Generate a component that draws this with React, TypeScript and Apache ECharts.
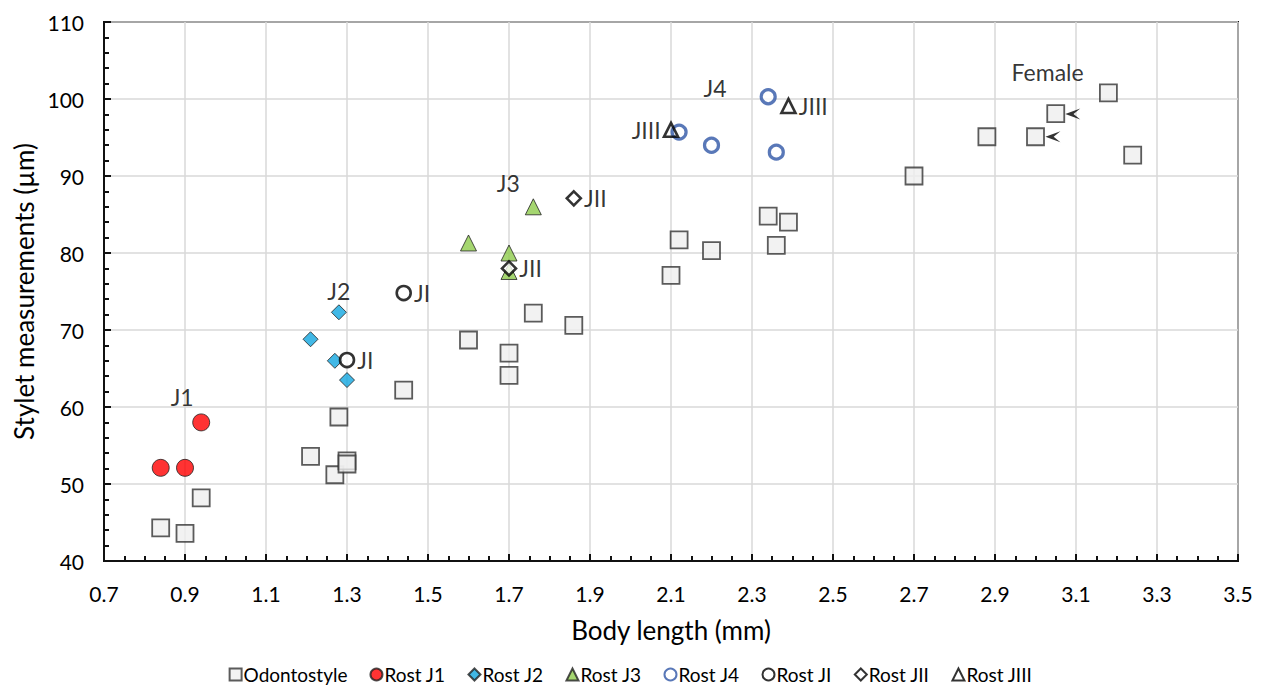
import React, { useEffect, useRef } from "react";
import * as echarts from "echarts";

const odontostyle: number[][] = [
  [0.84, 44.3], [0.9, 43.6], [0.94, 48.2], [1.21, 53.6], [1.27, 51.2], [1.28, 58.7],
  [1.3, 53.0], [1.3, 52.6], [1.44, 62.2], [1.6, 68.7], [1.7, 67.0], [1.7, 64.1],
  [1.76, 72.2], [1.86, 70.6], [2.1, 77.1], [2.12, 81.7], [2.2, 80.3], [2.34, 84.8],
  [2.39, 84.0], [2.36, 81.0], [2.7, 90.0], [2.88, 95.1], [3.0, 95.1], [3.05, 98.1],
  [3.18, 100.8], [3.24, 92.7],
];
const rostJ1: number[][] = [[0.84, 52.1], [0.9, 52.1], [0.94, 58.0]];
const rostJ2: number[][] = [[1.28, 72.3], [1.21, 68.8], [1.27, 66.0], [1.3, 63.5]];
const rostJ3: number[][] = [[1.6, 81.3], [1.7, 80.0], [1.7, 77.6], [1.76, 86.0]];
const rostJ4: number[][] = [[2.34, 100.3], [2.12, 95.7], [2.2, 94.0], [2.36, 93.1]];
const rostJI: number[][] = [[1.44, 74.8], [1.3, 66.1]];
const rostJII: number[][] = [[1.86, 87.1], [1.7, 78.0]];
const rostJIII: number[][] = [[2.1, 96.0], [2.39, 99.1]];
const femaleArrows: number[][] = [[3.092, 98.05], [3.043, 95.1]];
const groupLabels: { text: string; x: number; y: number }[] = [
  { text: "J1", x: 0.893, y: 61.3 },
  { text: "J2", x: 1.28, y: 75.1 },
  { text: "J3", x: 1.698, y: 89.1 },
  { text: "J4", x: 2.209, y: 101.4 },
  { text: "Female", x: 3.03, y: 103.5 },
];

const FONT = "Lato, 'Open Sans', sans-serif";

export default function App() {
  const ref = useRef<HTMLDivElement>(null);
  useEffect(() => {
    if (!ref.current) return;
    const chart = echarts.init(ref.current, undefined, { renderer: "svg" });
    const ptLabel = (pos: "right" | "left") => ({
      show: true,
      position: pos,
      distance: 2,
      color: "#000",
      fontSize: 23,
      fontFamily: FONT,
    });
    chart.setOption({
      animation: false,
      backgroundColor: "#fff",
      textStyle: { fontFamily: FONT },
      grid: {
        left: 104, right: 23, top: 22, bottom: 126,
        show: true, borderColor: "#111", borderWidth: 2, backgroundColor: "transparent",
      },
      legend: {
        top: 665,
        left: "center",
        padding: 0,
        itemWidth: 12,
        itemHeight: 12,
        itemGap: 22,
        textStyle: { fontSize: 19, color: "#000", fontFamily: FONT, padding: [0, 0, 0, -3] },
        data: ["Odontostyle", "Rost J1", "Rost J2", "Rost J3", "Rost J4", "Rost JI", "Rost JII", "Rost JIII"],
      },
      xAxis: {
        type: "value",
        min: 0.7,
        max: 3.5,
        interval: 0.2,
        name: "Body length (mm)",
        nameLocation: "middle",
        nameGap: 56,
        nameTextStyle: { fontSize: 26, color: "#000", fontFamily: FONT },
        axisLine: { show: true, onZero: false, lineStyle: { color: "#111", width: 2 } },
        axisTick: { show: true, inside: true, length: 7, lineStyle: { color: "#111", width: 2 } },
        minorTick: { show: true, splitNumber: 4, length: 5, lineStyle: { color: "#111", width: 2 } },
        axisLabel: {
          fontSize: 21, color: "#000", margin: 22, fontFamily: FONT,
          formatter: (v: number) => v.toFixed(1),
        },
        splitLine: { show: true, lineStyle: { color: "#d9d9d9", width: 1.5 } },
      },
      yAxis: {
        type: "value",
        min: 40,
        max: 110,
        interval: 10,
        name: "Stylet measurements (µm)",
        nameLocation: "middle",
        nameGap: 62,
        nameTextStyle: { fontSize: 26, color: "#000", fontFamily: FONT },
        axisLine: { show: true, onZero: false, lineStyle: { color: "#111", width: 2 } },
        axisTick: { show: true, inside: true, length: 7, lineStyle: { color: "#111", width: 2 } },
        minorTick: { show: true, splitNumber: 5, length: 5, lineStyle: { color: "#111", width: 2 } },
        axisLabel: { fontSize: 21, color: "#000", margin: 20, fontFamily: FONT },
        splitLine: { show: true, lineStyle: { color: "#d9d9d9", width: 1.5 } },
      },
      series: [
        {
          name: "Odontostyle", type: "scatter", data: odontostyle, symbol: "rect", symbolSize: 17,
          itemStyle: { color: "#efefef", borderColor: "#333", borderWidth: 1.8 },
        },
        {
          name: "Rost J1", type: "scatter", data: rostJ1, symbol: "circle", symbolSize: 17,
          itemStyle: { color: "#ff0000", borderColor: "#222", borderWidth: 1 },
        },
        {
          name: "Rost J2", type: "scatter", data: rostJ2, symbol: "diamond", symbolSize: 15,
          itemStyle: { color: "#12a6e0", borderColor: "#222", borderWidth: 1 },
        },
        {
          name: "Rost J3", type: "scatter", data: rostJ3, symbol: "triangle", symbolSize: 16,
          itemStyle: { color: "#8fcc4c", borderColor: "#222", borderWidth: 1 },
        },
        {
          name: "Rost J4", type: "scatter", data: rostJ4, symbol: "circle", symbolSize: 14,
          itemStyle: { color: "#fff", borderColor: "#2f56a6", borderWidth: 3.2 },
        },
        {
          name: "Rost JI", type: "scatter", data: rostJI, symbol: "circle", symbolSize: 14,
          itemStyle: { color: "#fff", borderColor: "#000", borderWidth: 2.6 },
          label: { ...ptLabel("right"), formatter: "JI" },
        },
        {
          name: "Rost JII", type: "scatter", data: rostJII, symbol: "diamond", symbolSize: 14,
          itemStyle: { color: "#fff", borderColor: "#000", borderWidth: 2.6 },
          label: { ...ptLabel("right"), formatter: "JII" },
        },
        {
          name: "Rost JIII", type: "scatter", symbol: "triangle", symbolSize: 14,
          data: [
            { value: rostJIII[0], label: { ...ptLabel("left"), formatter: "JIII" } },
            { value: rostJIII[1], label: { ...ptLabel("right"), formatter: "JIII" } },
          ],
          itemStyle: { color: "transparent", borderColor: "#000", borderWidth: 2.6 },
        },
        {
          name: "arrows", type: "scatter", data: femaleArrows,
          symbol: "path://M10,0 L0,5 L10,10 L5.5,5 Z", symbolSize: [15, 11],
          itemStyle: { color: "#000" },
          silent: true,
        },
        {
          name: "groupLabels", type: "scatter", symbolSize: 0, silent: true,
          data: groupLabels.map((g) => ({ value: [g.x, g.y], name: g.text })),
          label: {
            show: true, position: "inside", formatter: "{b}",
            fontSize: 23, color: "#000", fontFamily: FONT,
          },
        },
      ],
    });
    return () => chart.dispose();
  }, []);
  return (
    <div
      ref={ref}
      style={{ position: "fixed", left: 0, top: 0, width: 1261, height: 687 }}
    />
  );
}
